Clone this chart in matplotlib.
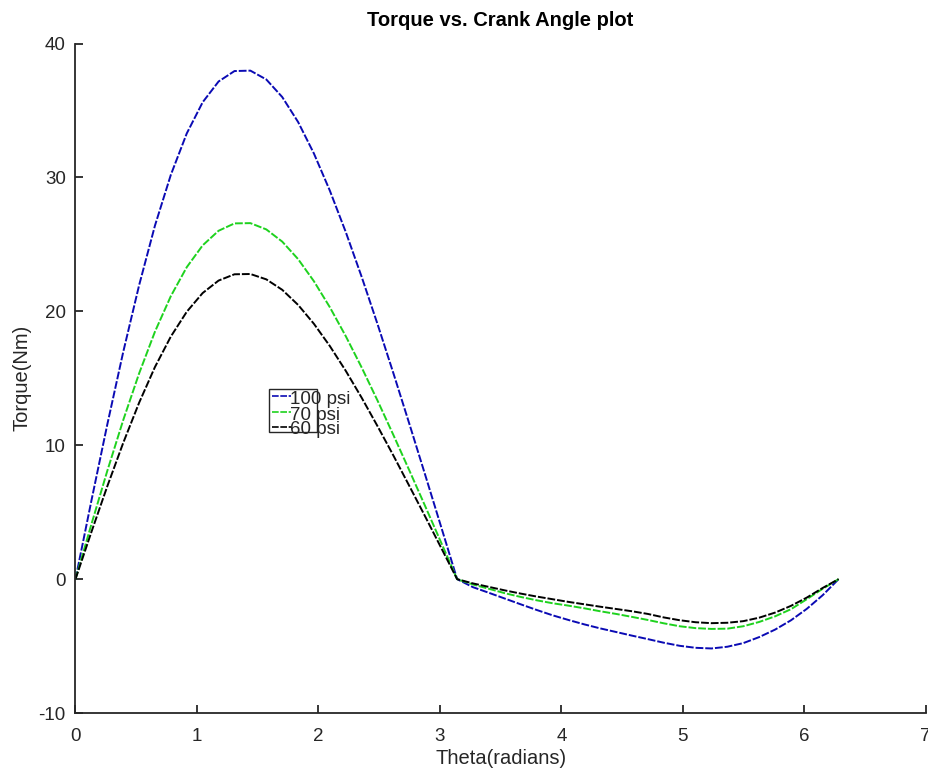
import matplotlib
matplotlib.use("Agg")
import matplotlib.pyplot as plt
from matplotlib.lines import Line2D
from matplotlib.patches import Rectangle

theta = [0.000, 0.131, 0.262, 0.393, 0.524, 0.654, 0.785, 0.916, 1.047, 1.178,
         1.309, 1.440, 1.571, 1.702, 1.833, 1.963, 2.094, 2.225, 2.356, 2.487,
         2.618, 2.749, 2.880, 3.011, 3.142, 3.272, 3.403, 3.534, 3.665, 3.796,
         3.927, 4.058, 4.189, 4.320, 4.451, 4.581, 4.712, 4.843, 4.974, 5.105,
         5.236, 5.367, 5.498, 5.629, 5.760, 5.890, 6.021, 6.152, 6.283]

torque_100 = [0.00, 5.86, 11.56, 16.97, 21.96, 26.40, 30.20, 33.29, 35.62, 37.17,
              37.95, 37.98, 37.32, 36.01, 34.14, 31.79, 29.02, 25.93, 22.58, 19.04,
              15.36, 11.59, 7.76, 3.89, 0.00, -0.60, -1.02, -1.45, -1.88, -2.30,
              -2.70, -3.05, -3.38, -3.68, -3.95, -4.22, -4.48, -4.75, -4.98, -5.13,
              -5.18, -5.05, -4.78, -4.33, -3.77, -3.08, -2.22, -1.20, 0.00]

torque_70 = [0.00, 4.10, 8.09, 11.88, 15.37, 18.48, 21.14, 23.30, 24.93, 26.02,
             26.57, 26.59, 26.12, 25.21, 23.90, 22.25, 20.31, 18.15, 15.81, 13.33,
             10.75, 8.11, 5.43, 2.72, 0.00, -0.40, -0.72, -1.05, -1.33, -1.58,
             -1.80, -1.98, -2.18, -2.40, -2.60, -2.82, -3.05, -3.30, -3.52, -3.66,
             -3.72, -3.70, -3.52, -3.20, -2.78, -2.25, -1.50, -0.72, 0.00]

torque_60 = [0.00, 3.52, 6.94, 10.18, 13.18, 15.84, 18.12, 19.97, 21.37, 22.30,
             22.77, 22.79, 22.39, 21.61, 20.48, 19.07, 17.41, 15.56, 13.55, 11.42,
             9.22, 6.95, 4.66, 2.33, 0.00, -0.32, -0.58, -0.84, -1.08, -1.30,
             -1.50, -1.70, -1.88, -2.06, -2.23, -2.40, -2.60, -2.86, -3.07, -3.22,
             -3.29, -3.26, -3.14, -2.88, -2.50, -2.00, -1.38, -0.66, 0.00]

labels = ["100 psi", "70 psi", "60 psi"]
colors = ["#0a0ab4", "#1ed21e", "#000000"]
xticks = [0, 1, 2, 3, 4, 5, 6, 7]
yticks = [-10, 0, 10, 20, 30, 40]

plt.rcParams['font.family'] = ['Liberation Sans', 'DejaVu Sans']
W, H = 929, 771
fig = plt.figure(figsize=(W / 100, H / 100), dpi=100)
ax = fig.add_axes([75.5 / W, 1 - 713 / H, (925.7 - 75.5) / W, (713 - 43.6) / H])

dash = (0, (4.0, 1.0))
for ys, c in zip([torque_100, torque_70, torque_60], colors):
    ax.plot(theta, ys, color=c, lw=1.4, linestyle=dash)

ax.set_xlim(0, 7)
ax.set_ylim(-10, 40)
ax.set_xticks(xticks)
ax.set_yticks(yticks)
ax.set_xticklabels([str(t) for t in xticks])
ax.set_yticklabels([str(t) for t in yticks])
for s in ['top', 'right']:
    ax.spines[s].set_visible(False)
for s in ['left', 'bottom']:
    ax.spines[s].set_color('#262626')
    ax.spines[s].set_linewidth(1.3)
ax.tick_params(axis='both', direction='in', length=6, width=1.3, color='#262626',
               labelsize=13.5, labelcolor='#262626')
ax.tick_params(axis='x', pad=11)
ax.tick_params(axis='y', pad=7)
ax.set_xlabel("Theta(radians)", fontsize=14.5, color='#262626', labelpad=3)
ax.set_ylabel("Torque(Nm)", fontsize=14.5, color='#262626', labelpad=5)
ax.set_title("Torque vs. Crank Angle plot", fontsize=14.5, fontweight='bold', pad=13)

# legend drawn like the original (text overflowing a small box)
def fx(x):
    return x / W

def fy(y):
    return 1 - y / H

fig.add_artist(Rectangle((fx(269), fy(432)), fx(317) - fx(269), fy(389) - fy(432),
                         transform=fig.transFigure, fill=False, edgecolor='#262626', lw=1.0))
row_y = [396, 412, 427]
for lab, c, yy in zip(labels, colors, row_y):
    fig.add_artist(Line2D([fx(272), fx(291)], [fy(yy), fy(yy)], transform=fig.transFigure,
                          color=c, lw=1.2, linestyle=dash))
    fig.text(fx(290), fy(yy + 3), lab, fontsize=13.5, color='#262626', va='center', ha='left')

fig.savefig("out.png", dpi=100)
